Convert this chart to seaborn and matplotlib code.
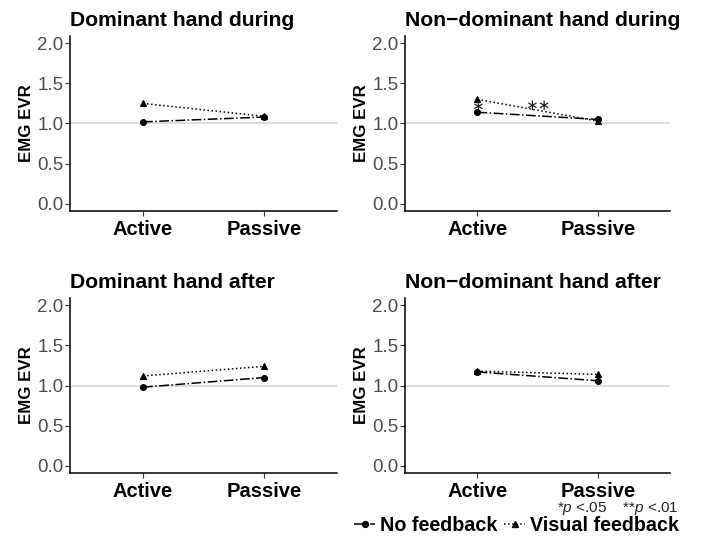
import matplotlib
matplotlib.use("Agg")
import matplotlib.pyplot as plt
from matplotlib.lines import Line2D
import seaborn as sns
import pandas as pd

sns.set_theme(style="white")
plt.rcParams['font.family'] = ['Liberation Sans', 'DejaVu Sans']
plt.rcParams['mathtext.fontset'] = 'custom'
plt.rcParams['mathtext.rm'] = 'Liberation Sans'
plt.rcParams['mathtext.it'] = 'Liberation Sans:italic'
plt.rcParams['text.color'] = 'black'
plt.rcParams['axes.labelcolor'] = 'black'

# ---- data ----
conditions = ["Active", "Passive"]
feedback = ["No feedback", "Visual feedback"]
titles = ["Dominant hand during", "Non\u2212dominant hand during",
          "Dominant hand after", "Non\u2212dominant hand after"]
no_feedback = [[1.02, 1.08], [1.14, 1.05], [0.98, 1.10], [1.17, 1.06]]
visual_feedback = [[1.25, 1.09], [1.30, 1.03], [1.12, 1.24], [1.18, 1.14]]
yticks = [0.0, 0.5, 1.0, 1.5, 2.0]
ytick_labels = ["0.0", "0.5", "1.0", "1.5", "2.0"]
# significance marks on panel 2 (x position in category units, y value, label)
sig_marks = [(0.0, 1.21, "\u2217"), (0.5, 1.23, "\u2217\u2217")]

fig = plt.figure(figsize=(7.04, 5.38), dpi=100)
positions = [
    [0.1001, 0.608, 0.378, 0.325],
    [0.5757, 0.608, 0.376, 0.325],
    [0.1001, 0.1208, 0.378, 0.325],
    [0.5757, 0.1208, 0.376, 0.325],
]

for i, pos in enumerate(positions):
    ax = fig.add_axes(pos)
    rows = []
    for c, v in zip(conditions, no_feedback[i]):
        rows.append({"cond": c, "val": v, "fb": feedback[0]})
    for c, v in zip(conditions, visual_feedback[i]):
        rows.append({"cond": c, "val": v, "fb": feedback[1]})
    df = pd.DataFrame(rows)
    ax.axhline(1.0, color="#D9D9D9", lw=1.3, zorder=0)
    sns.pointplot(data=df, x="cond", y="val", hue="fb", order=conditions,
                  hue_order=feedback, palette=["black", "black"],
                  markers=["o", "^"], linestyles=["-.", ":"],
                  markersize=4.2, linewidth=1.1, ax=ax, legend=False,
                  errorbar=None)
    ax.set_xlim(-0.6, 1.6)
    ax.set_ylim(-0.09, 2.09)
    ax.set_yticks(yticks)
    ax.set_yticklabels(ytick_labels)
    for side in ["top", "right"]:
        ax.spines[side].set_visible(False)
    for side in ["left", "bottom"]:
        ax.spines[side].set_color("black")
        ax.spines[side].set_linewidth(1.1)
    ax.tick_params(axis="both", which="both", length=3.5, width=0.8,
                   color="#333333", left=True, bottom=True)
    ax.tick_params(axis="y", labelsize=13.5, labelcolor="#4D4D4D", pad=1.5)
    ax.tick_params(axis="x", labelsize=14.5, labelcolor="black", pad=3)
    for lab in ax.get_xticklabels():
        lab.set_fontweight("bold")
    ax.set_xlabel("")
    ax.set_ylabel("EMG EVR", fontsize=12.2, fontweight="bold", labelpad=2.5,
                  color="black")
    ax.set_title(titles[i], loc="left", fontsize=15.2, fontweight="bold",
                 pad=7.5, color="black")
    if i == 1:
        for x, y, s in sig_marks:
            ax.text(x, y, s, ha="center", va="center", fontsize=11,
                    family="DejaVu Sans", color="#222222")

handles = [
    Line2D([0], [0], color="black", ls="-.", lw=1.1, marker="o", markersize=4.2),
    Line2D([0], [0], color="black", ls=":", lw=1.1, marker="^", markersize=4.2),
]
fig.legend(handles, feedback, loc="center", bbox_to_anchor=(0.7337, 0.0230),
           ncol=2, frameon=False, handlelength=1.1, handletextpad=0.25,
           columnspacing=0.3, borderpad=0.1,
           prop={"size": 14.2, "weight": "bold"})
fig.text(0.791, 0.0555, r"*$\mathit{p}$ <.05    **$\mathit{p}$ <.01",
         ha="left", va="center", fontsize=11, color="#222222")

fig.savefig("out.png", dpi=100)
